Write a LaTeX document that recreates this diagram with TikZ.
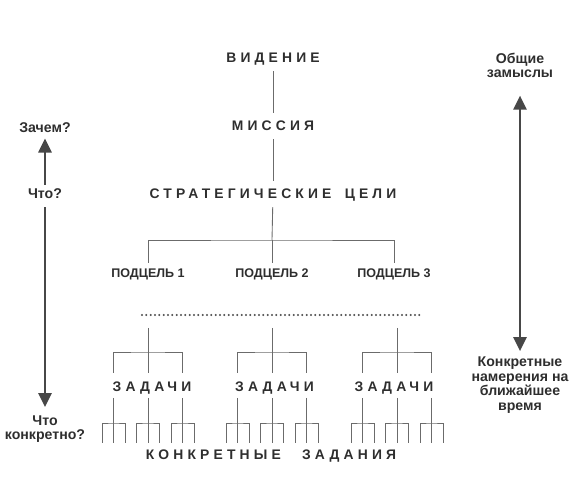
\documentclass[tikz,border=0pt]{standalone}
\usepackage{fontspec}
\setmainfont{Liberation Sans}
\newfontfamily\trackfont[LetterSpace=30]{Liberation Sans}
\usetikzlibrary{calc,arrows.meta}

\begin{document}
\begin{tikzpicture}[
	x=0.75pt,y=-0.75pt,
	>={Triangle[length=10.5pt,width=10pt]},
	ink/.style={text=black!82},
	spaced/.style={ink,font=\fontsize{10.4}{11}\trackfont\bfseries,text height=7.4pt,text depth=0pt,inner sep=0pt},
	sub/.style={ink,font=\fontsize{9.4}{11}\selectfont\bfseries,text height=6.8pt,text depth=0pt,inner sep=0pt},
	note/.style={ink,font=\fontsize{10.6}{11}\selectfont\bfseries,align=center,inner sep=0pt},
	link/.style={draw=black!58,line width=0.65pt},
	gap/.style={shorten <=#1,shorten >=#1},
	dots/.style={draw=black!70,line width=1.7pt,line cap=round,dash pattern=on 0pt off 3.25pt},
	axis/.style={draw=black!72,line width=1.4pt}]
	\useasboundingbox (0,0) rectangle (582,491);
	\node[spaced] (vid) at (273,58) {ВИДЕНИЕ};
	\node[spaced] (mis) at (273,126) {МИССИЯ};
	\node[spaced] (str) at (273,194) {СТРАТЕГИЧЕСКИЕ\hspace{4pt} ЦЕЛИ};
	\node[sub] (sub1) at (148,273) {ПОДЦЕЛЬ 1};
	\node[sub] (sub2) at (272,273) {ПОДЦЕЛЬ 2};
	\node[sub] (sub3) at (394,273) {ПОДЦЕЛЬ 3};
	\draw[link,gap=6pt] (vid) -- (mis);
	\draw[link,gap=6pt] (mis) -- (str);
	\coordinate (split) at (272,240);
	\draw[link,shorten <=6pt] (str) -- (split);
	\draw[link,gap=4pt] (sub1) |- (split) -| (sub3);
	\draw[link,shorten >=4pt] (split) -- (sub2);
	\draw[dots] (142,315) -- (422,315);
	\foreach \gx/\tx [count=\i] in {148/152,272/274.5,397/394} {
		\node[spaced] (task\i) at (\tx,387) {ЗАДАЧИ};
		\coordinate (top\i) at (\gx,328);
		\coordinate (fork\i) at (\gx,352);
		\draw[link] (top\i) -- (fork\i);
		\draw[link] ($(fork\i)+(-34.5,21)$) |- (fork\i) -| ($(fork\i)+(34.5,21)$);
		\draw[link] (fork\i) -- ++(0,21);
		\foreach \lx in {-34.5,0,34.5} {
			\draw[link] ($(fork\i)+(\lx,46)$) -- ++(0,45);
			\draw[link] ($(fork\i)+(\lx-11.5,91)$) |- ($(fork\i)+(\lx,71)$) -| ($(fork\i)+(\lx+11.5,91)$);
		}
	}
	\node[spaced] (jobs) at (271,455) {КОНКРЕТНЫЕ\hspace{10pt} ЗАДАНИЯ};
	\node[note] (why) at (45,128) {Зачем?};
	\node[note] (what) at (45,194) {Что?};
	\node[note] (conc) at (45,429) {Что\\конкретно?};
	\node[note] (gen) at (520,65.5) {Общие\\замыслы};
	\node[note] (near) at (520,385) {Конкретные\\намерения на\\ближайшее\\время};
	\draw[axis,->,shorten <=3pt,shorten >=4pt] (what) -- (why);
	\draw[axis,->,shorten <=6pt,shorten >=6pt] (what) -- (conc);
	\draw[axis,<->,shorten <=13pt,shorten >=4pt] (gen) -- (near);
\end{tikzpicture}
\end{document}
